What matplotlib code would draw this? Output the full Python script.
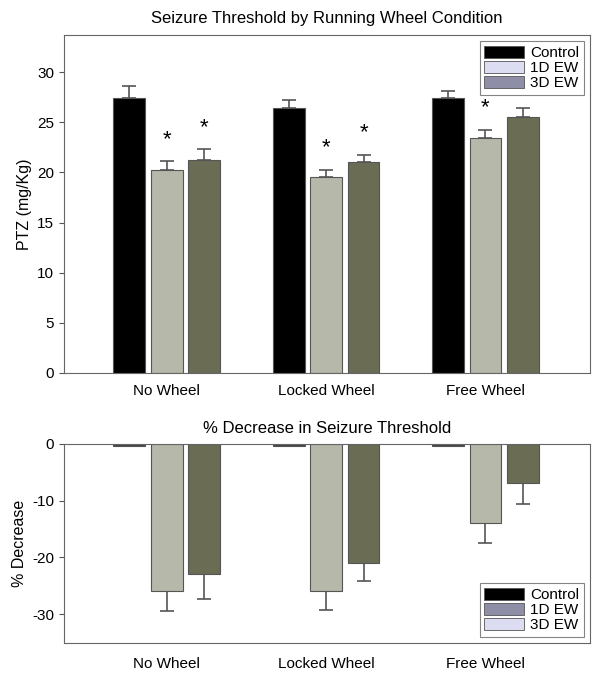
import numpy as np
import matplotlib
matplotlib.use('Agg')
import matplotlib.pyplot as plt
from matplotlib.patches import Patch

plt.rcParams['font.family'] = ['Liberation Sans', 'DejaVu Sans']
plt.rcParams['axes.unicode_minus'] = False

# Data
groups = ['No Wheel', 'Locked Wheel', 'Free Wheel']
series = ['Control', '1D EW', '3D EW']

ptz_mean = {
    'Control': [27.4, 26.45, 27.4],
    '1D EW': [20.2, 19.5, 23.45],
    '3D EW': [21.2, 21.0, 25.5],
}
ptz_err = {
    'Control': [1.25, 0.77, 0.7],
    '1D EW': [0.9, 0.77, 0.83],
    '3D EW': [1.1, 0.77, 0.95],
}
# significance markers (True = star above bar)
ptz_sig = {
    'Control': [False, False, False],
    '1D EW': [True, True, True],
    '3D EW': [True, True, False],
}

pct_mean = {
    'Control': [-0.3, -0.3, -0.3],
    '1D EW': [-26.0, -26.0, -14.0],
    '3D EW': [-23.0, -21.0, -6.9],
}
pct_err = {
    'Control': [0.0, 0.0, 0.0],
    '1D EW': [3.4, 3.2, 3.4],
    '3D EW': [4.3, 3.1, 3.6],
}

bar_colors = {'Control': '#000000', '1D EW': '#b6b8aa', '3D EW': '#6a6c54'}
top_legend_colors = ['#000000', '#dcdcf2', '#8e8ea6']
bottom_legend_colors = ['#000000', '#8e8ea6', '#dcdcf2']

x = np.arange(len(groups))
width = 0.2
step = 0.235
edge = '#555555'

fig = plt.figure(figsize=(6.01, 6.73), dpi=100)
ax1 = fig.add_axes([0.1065, 0.4458, 0.875, 0.502])
ax2 = fig.add_axes([0.1065, 0.0446, 0.875, 0.2957])

# Top panel
for i, s in enumerate(series):
    xs = x + (i - 1) * step
    ax1.bar(xs, ptz_mean[s], width, color=bar_colors[s], edgecolor=edge, linewidth=0.8, zorder=2)
    ax1.errorbar(xs, ptz_mean[s], yerr=[np.zeros(3), ptz_err[s]], fmt='none',
                 ecolor='#555555', elinewidth=1.2, capsize=5, capthick=1.2, zorder=1)
    for xi, m, e, sig in zip(xs, ptz_mean[s], ptz_err[s], ptz_sig[s]):
        if sig:
            ax1.text(xi, m + e + 2.2, '*', ha='center', va='center', fontsize=16)

ax1.set_xlim(-0.644, 2.655)
ax1.set_ylim(0, 33.7)
ax1.set_yticks([0, 5, 10, 15, 20, 25, 30])
ax1.set_xticks(x)
ax1.set_xticklabels(groups)
ax1.tick_params(axis='x', length=0, labelsize=11, pad=8)
ax1.tick_params(axis='y', labelsize=11, color='#555555')
ax1.set_ylabel('PTZ (mg/Kg)', fontsize=11.5)
ax1.set_title('Seizure Threshold by Running Wheel Condition', fontsize=12, pad=9)
for sp in ax1.spines.values():
    sp.set_color('#666666')

h1 = [Patch(facecolor=c, edgecolor='#555555', linewidth=0.6) for c in top_legend_colors]
leg1 = ax1.legend(h1, series, loc='upper right', fontsize=11, frameon=True, fancybox=False,
                  edgecolor='#666666', handlelength=2.6, handleheight=0.85,
                  labelspacing=0.05, borderpad=0.3, handletextpad=0.4, borderaxespad=0.4)
leg1.get_frame().set_linewidth(0.8)

# Bottom panel
for i, s in enumerate(series):
    xs = x + (i - 1) * step
    ax2.bar(xs, pct_mean[s], width, color=bar_colors[s] if s != 'Control' else '#444444',
            edgecolor=edge, linewidth=0.8, zorder=2)
    if s != 'Control':
        ax2.errorbar(xs, pct_mean[s], yerr=[pct_err[s], np.zeros(3)], fmt='none',
                     ecolor='#555555', elinewidth=1.2, capsize=5, capthick=1.2, zorder=1)

ax2.set_xlim(-0.644, 2.655)
ax2.set_ylim(-35.1, 0)
ax2.set_yticks([-30, -20, -10, 0])
ax2.set_xticks(x)
ax2.set_xticklabels(groups)
ax2.tick_params(axis='x', length=0, labelsize=11, pad=10)
ax2.tick_params(axis='y', labelsize=11, color='#555555')
ax2.set_ylabel('% Decrease', fontsize=11.5)
ax2.set_title('% Decrease in Seizure Threshold', fontsize=12, pad=8)
for sp in ax2.spines.values():
    sp.set_color('#666666')

h2 = [Patch(facecolor=c, edgecolor='#555555', linewidth=0.6) for c in bottom_legend_colors]
leg2 = ax2.legend(h2, series, loc='lower right', fontsize=11, frameon=True, fancybox=False,
                  edgecolor='#666666', handlelength=2.6, handleheight=0.85,
                  labelspacing=0.05, borderpad=0.3, handletextpad=0.4, borderaxespad=0.4)
leg2.get_frame().set_linewidth(0.8)

fig.savefig('out.png', dpi=100)
